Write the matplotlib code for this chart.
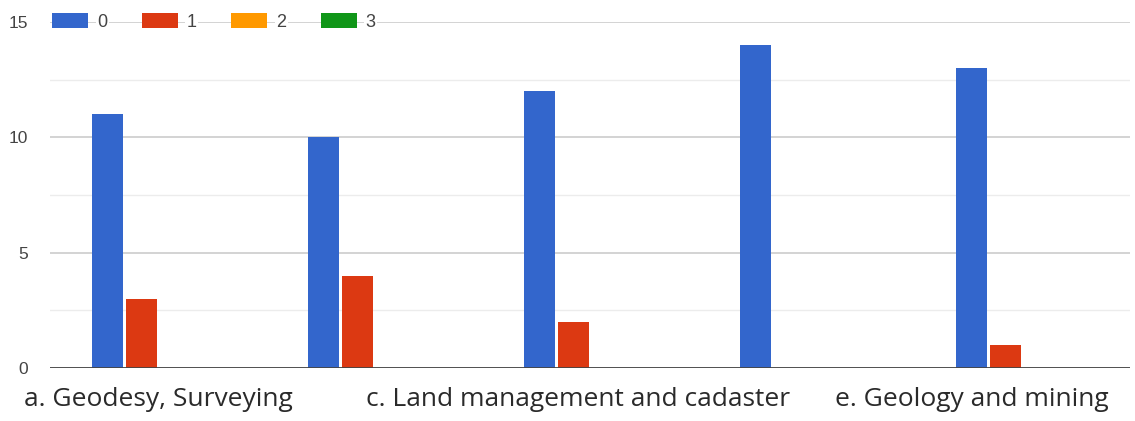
import matplotlib
matplotlib.use("Agg")
import matplotlib.pyplot as plt
import matplotlib.transforms as mtransforms
import numpy as np
from matplotlib.patches import Patch

# Responses per study programme
tick_labels = ["a. Geodesy, Surveying", "", "c. Land management and cadaster", "", "e. Geology and mining"]
series_names = ["0", "1", "2", "3"]
values_0 = [11, 10, 12, 14, 13]
values_1 = [3, 4, 2, 0, 1]
values_2 = [0, 0, 0, 0, 0]
values_3 = [0, 0, 0, 0, 0]
series_values = [values_0, values_1, values_2, values_3]
colors = ["#3366cc", "#dc3912", "#ff9900", "#109618"]

fig = plt.figure(figsize=(11.35, 4.21), dpi=100)
ax = fig.add_axes([0.044, 0.126, 0.9516, 0.822])

n = len(tick_labels)
centers = np.arange(n) + 0.5
step = 0.155
width = 0.142
for k, (name, vals, c) in enumerate(zip(series_names, series_values, colors)):
    offset = (k - 1.5) * step
    ax.bar(centers + offset, vals, width=width, color=c, zorder=3, label=name)

ax.set_xlim(0, n)
ax.set_ylim(0, 15)
ax.set_yticks([0, 5, 10, 15])
ax.set_yticks([2.5, 7.5, 12.5], minor=True)
ax.grid(axis="y", which="major", color="#cccccc", linewidth=1.2, zorder=0)
ax.grid(axis="y", which="minor", color="#ececec", linewidth=1.0, zorder=0)
ax.axhline(0, color="#444444", linewidth=2, zorder=4)

ax.set_xticks(centers)
ax.set_xticklabels(tick_labels, fontfamily="Open Sans", fontsize=19, color="#2a2a2a")
ax.tick_params(axis="x", length=0, pad=14)
ax.tick_params(axis="y", which="both", length=0, pad=16, labelsize=12.5, labelcolor="#444444")
for lbl in ax.get_yticklabels():
    lbl.set_fontfamily("Liberation Sans")

# keep the long category labels inside the figure
shifts_px = [0, 0, -12, 0, -50]
for lbl, dx in zip(ax.get_xticklabels(), shifts_px):
    if dx:
        lbl.set_transform(lbl.get_transform() + mtransforms.ScaledTranslation(dx / 100, 0, fig.dpi_scale_trans))

for s in ax.spines.values():
    s.set_visible(False)

handles = [Patch(facecolor=c, edgecolor="none") for c in colors]
leg = ax.legend(handles, series_names, loc="center left", bbox_to_anchor=(0.002, 1.0),
                ncol=4, frameon=False, handlelength=2.0, handleheight=0.85,
                handletextpad=0.5, columnspacing=1.9, borderaxespad=0.0, borderpad=0.0,
                prop={"family": "Liberation Sans", "size": 13})
for t in leg.get_texts():
    t.set_color("#444444")
    t.set_bbox(dict(facecolor="white", edgecolor="none", pad=1))
leg.set_zorder(5)

fig.savefig("out.png", dpi=100)
